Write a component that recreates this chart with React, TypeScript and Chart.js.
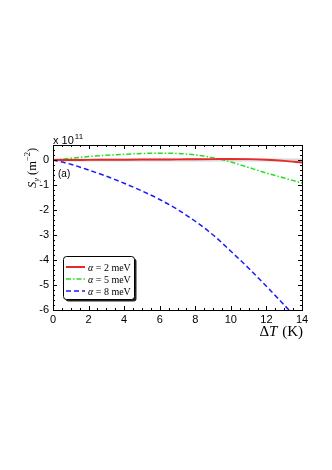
import React, { useEffect, useRef } from "react";
import { Chart, registerables } from "chart.js";

Chart.register(...registerables);

const dT = [0, 1, 2, 3, 4, 5, 6, 7, 8, 9, 10, 11, 12, 13, 14];
const alpha2 = [0, 0.0, 0.005, 0.008, 0.012, 0.016, 0.02, 0.025, 0.03, 0.035, 0.04, 0.035, 0.01, -0.035, -0.1];
const alpha5 = [0, 0.07, 0.14, 0.19, 0.23, 0.26, 0.27, 0.26, 0.2, 0.09, -0.08, -0.3, -0.52, -0.72, -0.92];
const alpha8 = [0, -0.17, -0.4, -0.65, -0.93, -1.24, -1.58, -1.98, -2.45, -3.0, -3.65, -4.33, -5.05, -5.8, -6.55];
const baseline = [0, 0, 0, 0, 0, 0, 0, 0, 0, 0, 0, 0, 0, 0, 0];
const seriesLabels = ["2", "5", "8"];
const xTicks = [0, 2, 4, 6, 8, 10, 12, 14];
const yTicks = [-6, -5, -4, -3, -2, -1, 0];

const RED = "#e62a2a";
const GREEN = "#22e022";
const BLUE = "#1a1aff";

const pts = (ys: number[]) => dT.map((x, i) => ({ x, y: ys[i] }));

const decorPlugin = {
  id: "decor",
  afterDraw(chart: any) {
    const ctx = chart.ctx as CanvasRenderingContext2D;
    const a = chart.chartArea;
    const xs = chart.scales.x;
    const ys = chart.scales.y;
    ctx.save();
    ctx.strokeStyle = "#000";
    ctx.lineWidth = 1;
    // box
    ctx.strokeRect(Math.round(a.left) + 0.5, Math.round(a.top) + 0.5, Math.round(a.right - a.left), Math.round(a.bottom - a.top));
    // ticks
    ctx.beginPath();
    for (let v = 0; v <= 14.001; v += 0.5) {
      const px = Math.round(xs.getPixelForValue(v)) + 0.5;
      const major = Math.abs(v % 2) < 1e-6;
      const len = major ? 4 : 2;
      ctx.moveTo(px, a.bottom);
      ctx.lineTo(px, a.bottom - len);
      ctx.moveTo(px, a.top);
      ctx.lineTo(px, a.top + len);
    }
    for (let k = -30; k <= 3; k++) {
      const v = k * 0.2;
      const py = Math.round(ys.getPixelForValue(v)) + 0.5;
      const major = k % 5 === 0;
      const len = major ? 4 : 2;
      ctx.moveTo(a.left, py);
      ctx.lineTo(a.left + len, py);
      ctx.moveTo(a.right, py);
      ctx.lineTo(a.right - len, py);
    }
    ctx.stroke();

    ctx.fillStyle = "#000";
    // x 10^11
    ctx.font = "11px 'Liberation Sans', Arial, sans-serif";
    ctx.textBaseline = "alphabetic";
    ctx.textAlign = "left";
    ctx.fillText("x 10", a.left, a.top - 1);
    const w1 = ctx.measureText("x 10").width;
    ctx.font = "8px 'Liberation Sans', Arial, sans-serif";
    ctx.fillText("11", a.left + w1 + 1, a.top - 6);

    // (a)
    ctx.font = "10px 'Liberation Sans', Arial, sans-serif";
    ctx.fillText("(a)", 58, 177);

    // x title: ΔT (K)
    const serif = "'Liberation Serif', 'DejaVu Serif', serif";
    ctx.font = `15px ${serif}`;
    const partA = "Δ";
    const partC = " (K)";
    const wA = ctx.measureText(partA).width;
    const wC = ctx.measureText(partC).width;
    ctx.font = `italic 15px ${serif}`;
    const wB = ctx.measureText("T").width;
    const total = wA + wB + wC;
    const x0 = a.right - total;
    const by = 336;
    ctx.font = `15px ${serif}`;
    ctx.fillText(partA, x0, by);
    ctx.font = `italic 15px ${serif}`;
    ctx.fillText("T", x0 + wA, by);
    ctx.font = `15px ${serif}`;
    ctx.fillText(partC, x0 + wA + wB + 1, by);

    // y title: S_y (m^-2), rotated
    ctx.save();
    ctx.translate(38, 168);
    ctx.rotate(-Math.PI / 2);
    const big = 12.5, small = 8.5;
    ctx.font = `italic ${big}px ${serif}`;
    const sW = ctx.measureText("S").width;
    ctx.font = `italic ${small}px ${serif}`;
    const yW = ctx.measureText("y").width;
    ctx.font = `${big}px ${serif}`;
    const mW = ctx.measureText(" (m").width;
    ctx.font = `${small}px ${serif}`;
    const eW = ctx.measureText("−2").width;
    ctx.font = `${big}px ${serif}`;
    const pW = ctx.measureText(")").width;
    const tw = sW + yW + mW + eW + pW;
    let cx = -tw / 2;
    ctx.font = `italic ${big}px ${serif}`;
    ctx.fillText("S", cx, -2);
    cx += sW;
    ctx.font = `italic ${small}px ${serif}`;
    ctx.fillText("y", cx, 1);
    cx += yW;
    ctx.font = `${big}px ${serif}`;
    ctx.fillText(" (m", cx, -2);
    cx += mW;
    ctx.font = `${small}px ${serif}`;
    ctx.fillText("−2", cx, -8);
    cx += eW;
    ctx.font = `${big}px ${serif}`;
    ctx.fillText(")", cx, -2);
    ctx.restore();

    // legend
    const lx = 63.5, ly = 256.5, lw = 71, lh = 43;
    ctx.fillStyle = "#222";
    ctx.beginPath();
    (ctx as any).roundRect(lx + 2, ly + 2, lw, lh, 3);
    ctx.fill();
    ctx.fillStyle = "#fff";
    ctx.strokeStyle = "#000";
    ctx.lineWidth = 1;
    ctx.beginPath();
    (ctx as any).roundRect(lx, ly, lw, lh, 3);
    ctx.fill();
    ctx.stroke();
    const styles = [
      { c: RED, d: [] as number[], w: 2 },
      { c: GREEN, d: [5, 2, 1.5, 2], w: 1.5 },
      { c: BLUE, d: [5, 3], w: 1.5 },
    ];
    const rowsY = [267, 279, 291];
    styles.forEach((s, i) => {
      ctx.strokeStyle = s.c;
      ctx.lineWidth = s.w;
      ctx.setLineDash(s.d);
      ctx.beginPath();
      ctx.moveTo(66, rowsY[i]);
      ctx.lineTo(85, rowsY[i]);
      ctx.stroke();
      ctx.setLineDash([]);
      ctx.fillStyle = "#000";
      const ty = rowsY[i] + 3.5;
      let tx = 88;
      ctx.font = `italic 10px ${serif}`;
      ctx.fillText("α", tx, ty);
      tx += ctx.measureText("α").width;
      ctx.font = `10px ${serif}`;
      ctx.fillText(` = ${seriesLabels[i]} meV`, tx, ty);
    });
    ctx.restore();
  },
};

export default function App() {
  const ref = useRef<HTMLCanvasElement | null>(null);
  useEffect(() => {
    document.body.style.margin = "0";
    const canvas = ref.current!;
    const chart = new Chart(canvas, {
      type: "line",
      data: {
        datasets: [
          {
            label: "base",
            data: pts(baseline),
            borderColor: "rgba(200,200,200,0.7)",
            borderWidth: 3,
            pointRadius: 0,
            order: 10,
          },
          {
            label: "α = 2 meV",
            data: pts(alpha2),
            borderColor: RED,
            borderWidth: 2,
            pointRadius: 0,
            cubicInterpolationMode: "monotone",
            order: 1,
          },
          {
            label: "α = 5 meV",
            data: pts(alpha5),
            borderColor: GREEN,
            borderWidth: 1.5,
            borderDash: [5, 2, 1.5, 2],
            pointRadius: 0,
            cubicInterpolationMode: "monotone",
            order: 2,
          },
          {
            label: "α = 8 meV",
            data: pts(alpha8),
            borderColor: BLUE,
            borderWidth: 1.5,
            borderDash: [5, 3],
            pointRadius: 0,
            cubicInterpolationMode: "monotone",
            order: 3,
          },
        ],
      },
      options: {
        responsive: false,
        animation: false,
        layout: { padding: { left: 0, top: 145, right: 30, bottom: 120 } },
        plugins: { legend: { display: false }, tooltip: { enabled: false } },
        scales: {
          x: {
            type: "linear",
            min: 0,
            max: 14,
            grid: { display: false, drawTicks: false },
            border: { display: false },
            afterBuildTicks: (s: any) => {
              s.ticks = xTicks.map((v) => ({ value: v }));
            },
            afterFit: (s: any) => {
              s.height = 40;
            },
            ticks: {
              padding: 3,
              color: "#000",
              font: { family: "'Liberation Sans', Arial, sans-serif", size: 11 },
              maxRotation: 0,
            },
          },
          y: {
            type: "linear",
            min: -6,
            max: 0.6,
            grid: { display: false, drawTicks: false },
            border: { display: false },
            afterBuildTicks: (s: any) => {
              s.ticks = yTicks.map((v) => ({ value: v }));
            },
            afterFit: (s: any) => {
              s.width = 53;
            },
            ticks: {
              padding: 4,
              color: "#000",
              font: { family: "'Liberation Sans', Arial, sans-serif", size: 11 },
            },
          },
        },
      },
      plugins: [decorPlugin],
    });
    return () => chart.destroy();
  }, []);
  return (
    <div style={{ width: 332, height: 470, background: "#fff" }}>
      <canvas ref={ref} width={332} height={470} />
    </div>
  );
}
